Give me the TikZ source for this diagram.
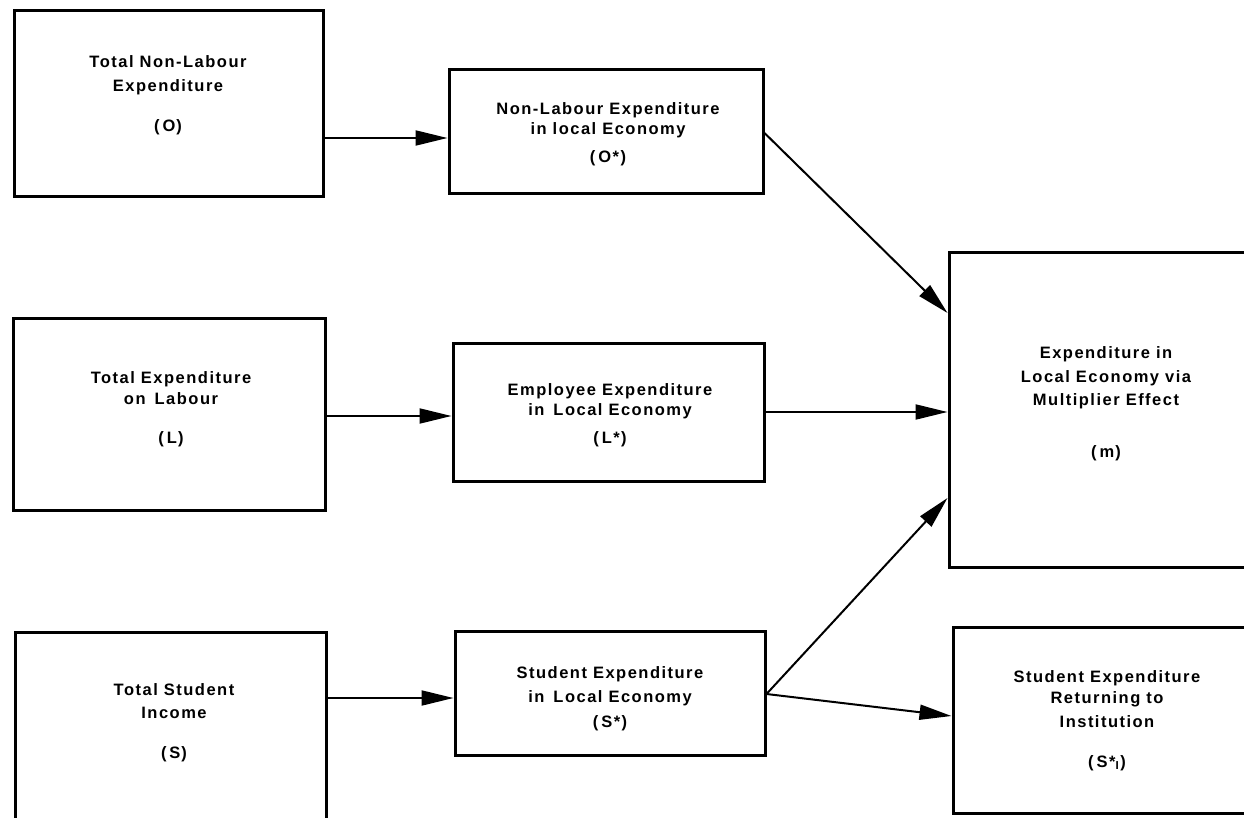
\documentclass[tikz,border=0pt]{standalone}
\usepackage{fontspec}
\newfontfamily\lblfont{Liberation Sans Bold}[LetterSpace=9]
\usetikzlibrary{arrows.meta}
\begin{document}
\begin{tikzpicture}[x=1pt,y=-1pt,
  box/.style={draw, line width=3pt, inner sep=0pt},
  txt/.style={anchor=base, inner sep=0pt, font=\lblfont\fontsize{16.5}{20}\selectfont},
  arr/.style={line width=2pt, -{Triangle[length=32pt,width=15pt]}}]
\clip (0,0) rectangle (1244,818);
% boxes
\node[box, minimum width=309pt, minimum height=186pt] (O)  at (168.5,104) {};
\node[box, minimum width=314pt, minimum height=124pt] (Os) at (606,132) {};
\node[box, minimum width=312pt, minimum height=192pt] (L)  at (169,414) {};
\node[box, minimum width=311pt, minimum height=138pt] (Ls) at (608.5,412) {};
\node[box, minimum width=311pt, minimum height=189pt] (S)  at (170.5,726.5) {};
\node[box, minimum width=310pt, minimum height=124pt] (Ss) at (610,693) {};
\node[box, minimum width=301pt, minimum height=314pt] (M)  at (1099.5,410) {};
\node[box, minimum width=297pt, minimum height=186pt] (SI) at (1101.5,720) {};
% texts
\node[txt] (O1) at (168,68) {Total Non-Labour};
\node[txt] (O2) at (168,92) {Expenditure};
\node[txt] (O3) at (168,132) {(\kern3pt O\kern1pt)};
\node[txt] (Os1) at (608,115) {Non-Labour Expenditure};
\node[txt] (Os2) at (608,135) {in local Economy};
\node[txt] (Os3) at (608,163) {(\kern3pt O*)};
\node[txt] (L1) at (171,383) {Total Expenditure};
\node[txt] (L2) at (171,404) {on\kern3pt{} Labour};
\node[txt] (L3) at (171,443) {(\kern3pt L\kern1pt)};
\node[txt] (Ls1) at (610,395) {Employee Expenditure};
\node[txt] (Ls2) at (610,415) {in\kern3pt{} Local Economy};
\node[txt] (Ls3) at (610,443) {(\kern3pt L*)};
\node[txt] (S1) at (174,695) {Total Student};
\node[txt] (S2) at (174,718) {Income};
\node[txt] (S3) at (174,758) {(\kern3pt S\kern1pt)};
\node[txt] (Ss1) at (610,678) {Student Expenditure};
\node[txt] (Ss2) at (610,702) {in\kern3pt{} Local Economy};
\node[txt] (Ss3) at (610,727) {(\kern3pt S*)};
\node[txt] (M1) at (1106,358) {Expenditure in};
\node[txt] (M2) at (1106,382) {Local Economy via};
\node[txt] (M3) at (1106,405) {Multiplier Effect};
\node[txt] (M4) at (1106,457) {(\kern3pt m\kern1pt)};
\node[txt] (SI1) at (1107,682) {Student Expenditure};
\node[txt] (SI2) at (1107,703) {Returning to};
\node[txt] (SI3) at (1107,727) {Institution};
\node[txt] (SI4) at (1107,767) {(\kern3pt S*\textsubscript{I}\kern1pt)};
% arrows
\draw[arr] ([yshift=-34pt]O.east) -- ([yshift=-6pt]Os.west);
\draw[arr] ([yshift=-2pt]L.east) -- ([yshift=-4pt]Ls.west);
\draw[arr] ([yshift=28.5pt]S.east) -- ([yshift=-5pt]Ss.west);
\draw[arr] ([yshift=-1pt]Os.east) -- ([yshift=97pt]M.west);
\draw[arr] (Ls.east) -- (Ls.east -| M.west);
\draw[arr] ([yshift=-1pt]Ss.east) -- ([yshift=-88pt]M.west);
\draw[arr] ([yshift=-1pt]Ss.east) -- ([yshift=4pt]SI.west);
\end{tikzpicture}
\end{document}
